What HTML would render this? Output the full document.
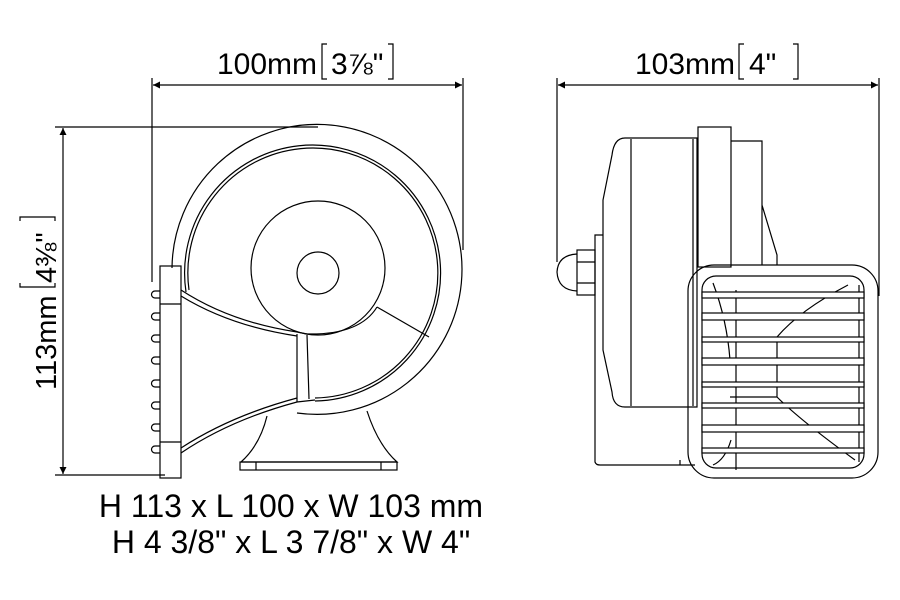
<!DOCTYPE html>
<html><head><style>body{margin:0;background:#fff}svg{display:block}</style></head><body>
<svg width="900" height="600" viewBox="0 0 900 600" xmlns="http://www.w3.org/2000/svg" font-family="Liberation Sans, sans-serif">
<defs>
<marker id="a" viewBox="0 0 10 10" refX="10" refY="5" markerWidth="22" markerHeight="7" markerUnits="userSpaceOnUse" orient="auto-start-reverse"><path d="M0,0 L10,5 L0,10z" fill="#000"/></marker>
</defs>
<g stroke="#000" stroke-width="1.2" fill="none">
<line x1="152" y1="78" x2="152" y2="282"/>
<line x1="463" y1="78" x2="463" y2="250"/>
<line x1="153" y1="85" x2="462" y2="85" marker-start="url(#a)" marker-end="url(#a)"/>
<line x1="55" y1="127" x2="318" y2="127"/>
<line x1="55" y1="475" x2="165" y2="475"/>
<line x1="63" y1="128" x2="63" y2="474" marker-start="url(#a)" marker-end="url(#a)"/>
<line x1="557" y1="78" x2="557" y2="262"/>
<line x1="879" y1="78" x2="879" y2="296"/>
<line x1="558" y1="85" x2="878" y2="85" marker-start="url(#a)" marker-end="url(#a)"/>
<path d="M172,268 A145,145 0 1 1 297,413"/>
<path d="M186,292 A128,128 0 1 1 315,401"/>
<path d="M189,290 A125,125 0 1 1 315,398"/>
<circle cx="318" cy="268" r="67"/>
<circle cx="318" cy="273" r="21"/>
<path d="M181,290 Q230,322 297,332 L307,334 Q360,335 377,307"/>
<path d="M181,296 Q230,326 297,336"/>
<line x1="377" y1="307" x2="429" y2="337"/>
<line x1="297" y1="334" x2="297" y2="402"/>
<line x1="307" y1="335" x2="309" y2="399"/>
<path d="M181,453 Q230,420 297,402 L315,400"/>
<path d="M181,448 Q230,416 297,398"/>
<rect x="160" y="266" width="21" height="212"/>
<line x1="160" y1="304" x2="181" y2="304"/>
<line x1="160" y1="442" x2="181" y2="442"/>
<g>
<path d="M160,291 h-5 a3,3 0 0 0 0,7 h5"/><path d="M160,313 h-5 a3,3 0 0 0 0,7 h5"/>
<path d="M160,335 h-5 a3,3 0 0 0 0,7 h5"/><path d="M160,357 h-5 a3,3 0 0 0 0,7 h5"/>
<path d="M160,380 h-5 a3,3 0 0 0 0,7 h5"/><path d="M160,402 h-5 a3,3 0 0 0 0,7 h5"/>
<path d="M160,424 h-5 a3,3 0 0 0 0,7 h5"/><path d="M160,446 h-5 a3,3 0 0 0 0,7 h5"/>
</g>
<path d="M267,416 Q260,445 241,462 L397,462 Q378,445 367,411"/>
<rect x="240" y="462" width="157" height="8"/>
<line x1="256" y1="462" x2="256" y2="470"/><line x1="381" y1="462" x2="381" y2="470"/>
<path d="M625,138 L697,138 L697,407 L625,407 Q613,407 612,392 L603,350 L603,200 L612,155 Q614,138 625,138z"/>
<line x1="631" y1="139" x2="631" y2="406"/>
<line x1="693" y1="139" x2="693" y2="406"/>
<rect x="698" y="127" width="33" height="140"/>
<path d="M731,141 L762,141 L762,265 M762,205 L777,255 L777,265"/>
<path d="M603,235 L595,235 L595,462 Q596,465 600,465 L695,465 M680,465 L680,460"/>
<rect x="577" y="250" width="18" height="45"/>
<line x1="577" y1="262" x2="595" y2="262"/><line x1="577" y1="283" x2="595" y2="283"/>
<path d="M577,254 Q558,255 557,272 Q558,290 577,291"/>
<rect x="688" y="265" width="190" height="213" rx="26"/>
<rect x="702" y="276" width="162" height="192" rx="14"/>
<path d="M713,283 Q727,320 730,360 M736,290 L736,470"/>
<path d="M848,285 Q800,310 777,337 M777,342 L777,397 M730,397 L777,397 Q800,420 855,460 M731,440 Q725,460 713,465"/>
<line x1="859" y1="285" x2="859" y2="462"/>
<g fill="#fff">
<rect x="702" y="292" width="162" height="6"/><rect x="702" y="313" width="162" height="7"/>
<rect x="702" y="337" width="162" height="5"/><rect x="702" y="358" width="162" height="7"/>
<rect x="702" y="382" width="162" height="5"/><rect x="702" y="403" width="162" height="5"/>
<rect x="702" y="425" width="162" height="7"/><rect x="702" y="448" width="162" height="5"/>
</g>
<path d="M327,44 h-5 v35 h5 M388,44 h5 v35 h-5"/>
<path d="M744,44 h-5 v35 h5 M793,44 h5 v35 h-5"/>
<path d="M20,283 v4 h35 v-4 M20,221 v-4 h35 v4"/>
</g>
<g font-size="30" fill="#000">
<text x="217" y="74">100mm</text>
<text x="331" y="74">3⅞"</text>
<text x="635" y="74">103mm</text>
<text x="749" y="74">4"</text>
<g transform="translate(56,390) rotate(-90)">
<text x="0" y="0" font-size="29">113mm</text>
<text x="107" y="0" font-size="29">4⅜"</text>
</g>
<text x="291" y="517" font-size="32" text-anchor="middle">H 113 x L 100 x W 103 mm</text>
<text x="291" y="553" font-size="32" text-anchor="middle">H 4 3/8" x L 3 7/8" x W 4"</text>
</g>
</svg>
</body></html>
